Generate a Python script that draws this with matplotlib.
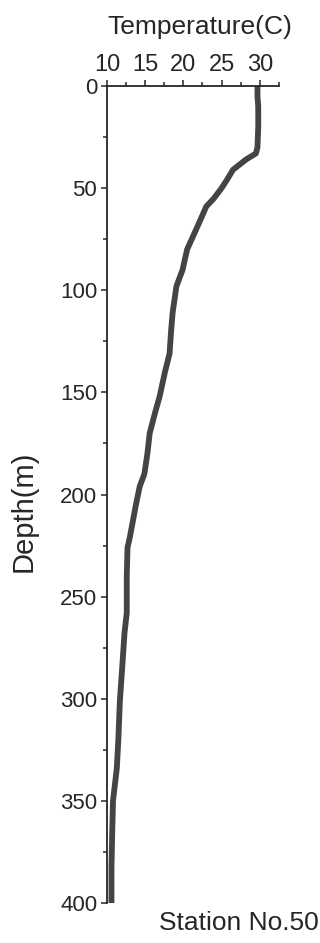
import numpy as np
import matplotlib.pyplot as plt
from matplotlib.ticker import MultipleLocator

plt.rcParams['font.family'] = ['Liberation Sans', 'DejaVu Sans']

# temperature profile
depth = [0, 5, 10, 20, 30, 33, 36, 41, 46, 50, 55, 59, 65, 70, 80, 90, 94, 98,
         111, 120, 131, 140, 152, 160, 170, 180, 190, 196, 205, 215, 221, 226,
         240, 258, 268, 285, 301, 320, 334, 350, 365, 383, 395, 400]
temp = [29.7, 29.7, 29.8, 29.8, 29.7, 29.5, 28.2, 26.5, 25.7, 25.0, 24.0, 23.0,
        22.3, 21.7, 20.5, 19.9, 19.5, 19.1, 18.6, 18.4, 18.2, 17.6, 16.9, 16.3,
        15.6, 15.3, 14.9, 14.3, 13.8, 13.3, 13.0, 12.7, 12.6, 12.6, 12.3, 12.0,
        11.7, 11.5, 11.3, 10.8, 10.7, 10.6, 10.6, 10.6]
xticks = [10, 15, 20, 25, 30]
yticks = [0, 50, 100, 150, 200, 250, 300, 350, 400]

ink = '#262626'
fig = plt.figure(figsize=(3.2, 9.43), dpi=100)
ax = fig.add_axes([0.334, 0.0424, 0.5375, 0.8664])

ax.plot(temp, depth, color='#444444', lw=4.2, solid_capstyle='butt')

ax.set_xlim(10, 32.5)
ax.set_ylim(400, 0)
ax.xaxis.tick_top()
ax.xaxis.set_label_position('top')
ax.set_xticks(xticks)
ax.set_yticks(yticks)
ax.xaxis.set_minor_locator(MultipleLocator(2.5))
ax.yaxis.set_minor_locator(MultipleLocator(25))

for side in ['right', 'bottom']:
    ax.spines[side].set_visible(False)
for side in ['left', 'top']:
    ax.spines[side].set_color(ink)
    ax.spines[side].set_linewidth(1.3)

ax.tick_params(which='both', direction='out', color=ink, width=1.1, labelcolor=ink)
ax.tick_params(which='major', length=4, labelsize=16)
ax.tick_params(axis='x', which='major', pad=3, labelsize=17)
ax.tick_params(axis='y', which='major', pad=3)
ax.tick_params(which='minor', length=3)

ax.set_xlabel('Temperature(C)', fontsize=19, color=ink)
ax.xaxis.set_label_coords(0.54, 1.064)
ax.set_ylabel('Depth(m)', fontsize=21, color=ink)
ax.yaxis.set_label_coords(-0.405, 0.48)

fig.text(0.995, 0.008, 'Station No.50', ha='right', va='bottom', fontsize=19, color=ink)

fig.savefig('out.png', dpi=100)
